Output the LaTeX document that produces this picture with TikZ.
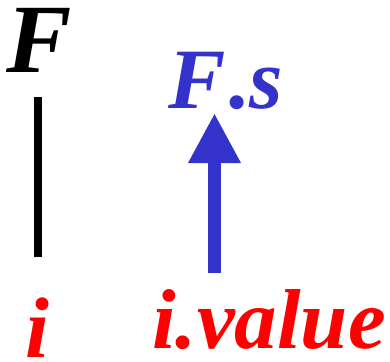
\documentclass[tikz,border=0pt]{standalone}
\usepackage{fontspec}
\setmainfont{Liberation Serif}
\usetikzlibrary{arrows.meta}
\definecolor{myblue}{RGB}{51,51,204}
\definecolor{myred}{RGB}{255,0,0}
\begin{document}
\begin{tikzpicture}[x=1pt,y=1pt,
  lbl/.style={inner sep=0pt, anchor=base west, font=\bfseries\itshape}]
\useasboundingbox (0,0) rectangle (390,-361);
\node[lbl, font=\fontsize{98}{98}\selectfont\bfseries\itshape] (F) at (6,-72) {F};
\node[lbl, myblue, font=\fontsize{86}{86}\selectfont\bfseries\itshape] (Fs) at (168,-108) {F\kern4pt.\kern-2pt s};
\node[lbl, myred, font=\fontsize{86}{86}\selectfont\bfseries\itshape] (i) at (25,-357) {i};
\node[lbl, myred, font=\fontsize{85}{85}\selectfont\bfseries\itshape] (iv) at (152,-348) {i.value};
\coordinate (l1) at (38,-97);
\coordinate (l2) at (38,-257);
\draw[line width=8pt] (l1) -- (l2);
\coordinate (a1) at (214.5,-273);
\coordinate (a2) at (214.5,-113);
\draw[myblue, line width=13pt, -{Triangle[length=50pt,width=49pt]}] (a1) -- (a2);
\end{tikzpicture}
\end{document}
